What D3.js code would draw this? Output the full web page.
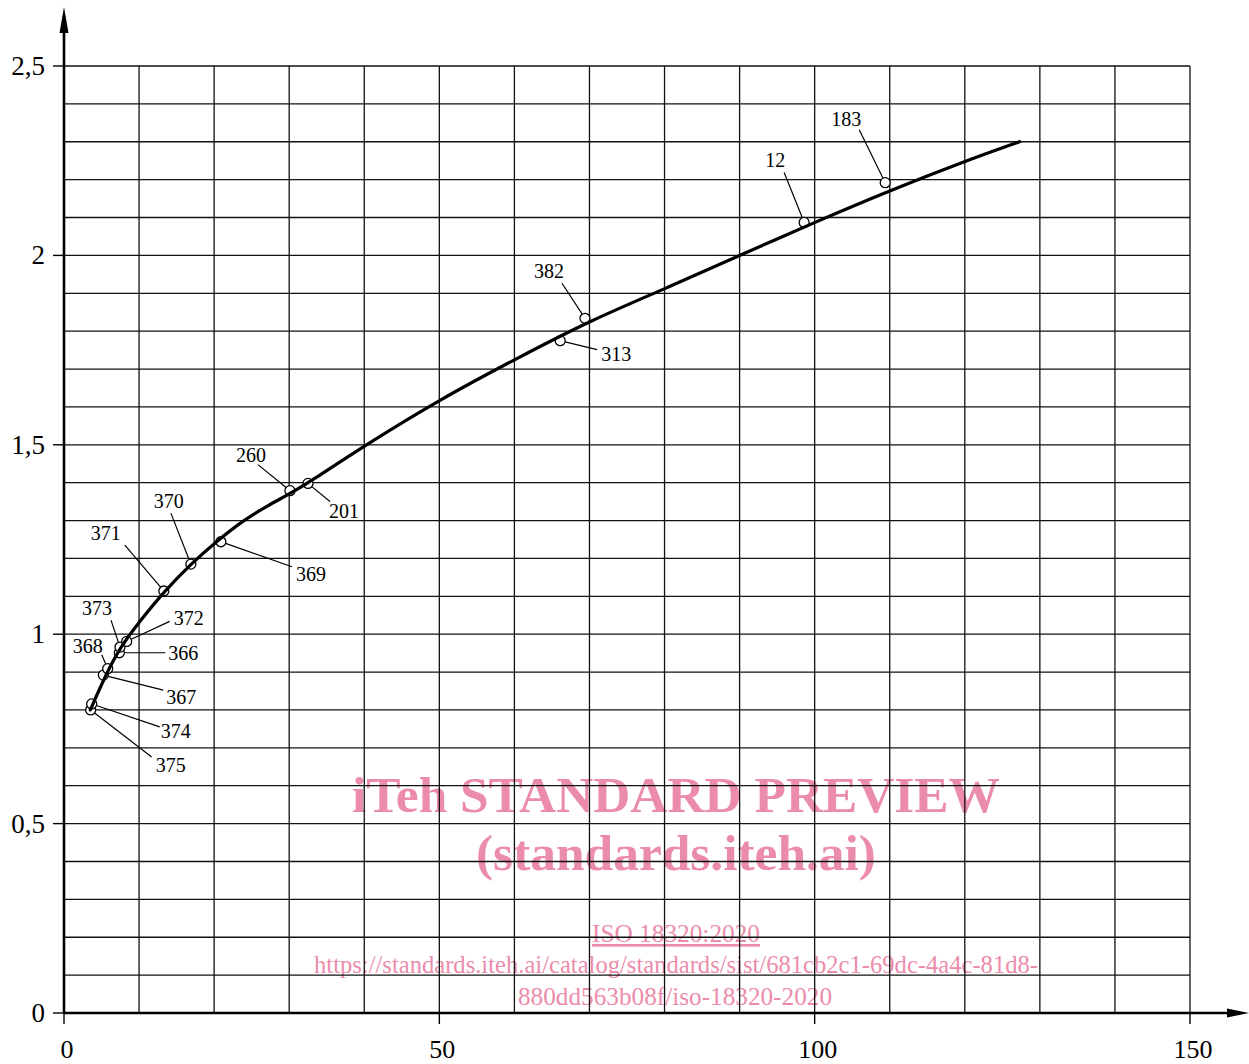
<!DOCTYPE html>
<html>
<head>
<meta charset="utf-8">
<script src="https://cdn.jsdelivr.net/npm/d3@7"></script>
<style>
  body { margin: 0; background: #fff; }
  svg { display: block; }
</style>
</head>
<body>
<div id="chart"></div>
<script>
// measured points (x, y) with their sample numbers
var pointIds = ["375", "374", "367", "368", "366", "373", "372", "371", "370", "369", "260", "201", "313", "382", "12", "183"];
var pointX = [3.55, 3.69, 5.24, 5.82, 7.37, 7.46, 8.35, 13.3, 16.9, 20.9, 30.1, 32.5, 66.1, 69.4, 98.6, 109.4];
var pointY = [0.800, 0.816, 0.892, 0.909, 0.951, 0.966, 0.981, 1.114, 1.185, 1.244, 1.379, 1.398, 1.775, 1.834, 2.087, 2.192];

// fitted curve
var curveX = [3.5, 5.5, 7.5, 10, 13.3, 17, 20.3, 24, 27, 30.2, 32.8, 40.2, 50.1, 60.3, 70.3, 80.2, 90, 100.2, 110, 119.8, 127.3];
var curveY = [0.80, 0.89, 0.966, 1.032, 1.112, 1.187, 1.245, 1.302, 1.338, 1.372, 1.403, 1.50, 1.62, 1.728, 1.83, 1.913, 2.0, 2.089, 2.171, 2.247, 2.30];

var xTicks = [0, 50, 100, 150];
var yTicks = [0, 0.5, 1, 1.5, 2, 2.5];
var yTickLabels = ["0", "0,5", "1", "1,5", "2", "2,5"];

// label placement (pixel offsets from the point): text centre and leader end
var lblDx = [80, 84, 78, -20, 64, -23, 62, -58, -22, 90, -39, 36, 56, -36, -29, -39];
var lblDy = [55, 27, 22, -23, 0, -39, -23, -58, -63, 32, -36, 28, 13, -47, -62, -64];
var ldrDx = [61, 68, 60, -6, 46, -9, 43, -39, -20, 71, -32, 22, 37, -23, -20, -26];
var ldrDy = [47, 23, 15, -14, 0, -27, -20, -46, -51, 25, -26, 18, 9, -35, -50, -53];

var width = 1249, height = 1064;
var x = d3.scaleLinear().domain([0, 150]).range([64, 1190]);
var y = d3.scaleLinear().domain([0, 2.5]).range([1013, 66]);

var svg = d3.select("#chart").append("svg")
  .attr("width", width)
  .attr("height", height);

// watermark (sits behind the grid)
var wm = svg.append("g")
  .attr("fill", "#ec8cab")
  .attr("font-family", "Liberation Serif, serif")
  .attr("text-anchor", "middle");
wm.append("text").attr("x", 676).attr("y", 812)
  .attr("font-size", 50).attr("font-weight", "bold")
  .attr("textLength", 648).attr("lengthAdjust", "spacingAndGlyphs")
  .text("iTeh STANDARD PREVIEW");
wm.append("text").attr("x", 676).attr("y", 870)
  .attr("font-size", 50).attr("font-weight", "bold")
  .attr("textLength", 400).attr("lengthAdjust", "spacingAndGlyphs")
  .text("(standards.iteh.ai)");
wm.append("text").attr("x", 676).attr("y", 942)
  .attr("font-size", 26).attr("text-decoration", "underline")
  .attr("textLength", 168).attr("lengthAdjust", "spacingAndGlyphs")
  .text("ISO 18320:2020");
wm.append("text").attr("x", 676).attr("y", 973)
  .attr("font-size", 26)
  .attr("textLength", 724).attr("lengthAdjust", "spacingAndGlyphs")
  .text("https://standards.iteh.ai/catalog/standards/sist/681cb2c1-69dc-4a4c-81d8-");
wm.append("text").attr("x", 675).attr("y", 1005)
  .attr("font-size", 26)
  .attr("textLength", 314).attr("lengthAdjust", "spacingAndGlyphs")
  .text("880dd563b08f/iso-18320-2020");

// grid
var grid = svg.append("g").attr("stroke", "#111").attr("stroke-width", 1.3);
grid.selectAll("line.v")
  .data(d3.range(10, 151, 10))
  .enter().append("line")
  .attr("x1", d => x(d)).attr("x2", d => x(d))
  .attr("y1", y(0)).attr("y2", y(2.5));
grid.selectAll("line.h")
  .data(d3.range(1, 26).map(d => d / 10))
  .enter().append("line")
  .attr("x1", x(0)).attr("x2", x(150))
  .attr("y1", d => y(d)).attr("y2", d => y(d));

// axes with arrows
var axes = svg.append("g").attr("stroke", "#000").attr("stroke-width", 2.6);
axes.append("line").attr("x1", x(0)).attr("x2", 1232).attr("y1", y(0)).attr("y2", y(0));
axes.append("line").attr("x1", x(0)).attr("x2", x(0)).attr("y1", y(0)).attr("y2", 30);
svg.append("path")
  .attr("d", "M1249," + y(0) + " L1227," + (y(0) - 4.5) + " L1227," + (y(0) + 4.5) + " Z")
  .attr("fill", "#000");
svg.append("path")
  .attr("d", "M" + x(0) + ",7 L" + (x(0) - 4.5) + ",33 L" + (x(0) + 4.5) + ",33 Z")
  .attr("fill", "#000");

// ticks
var ticks = svg.append("g").attr("stroke", "#000").attr("stroke-width", 1.4);
ticks.selectAll("line.xt").data(xTicks).enter().append("line")
  .attr("x1", d => x(d)).attr("x2", d => x(d))
  .attr("y1", y(0)).attr("y2", y(0) + 11);
ticks.selectAll("line.yt").data(yTicks).enter().append("line")
  .attr("x1", x(0) - 11).attr("x2", x(0))
  .attr("y1", d => y(d)).attr("y2", d => y(d));

var font = "Liberation Serif, serif";
svg.append("g").selectAll("text").data(xTicks).enter().append("text")
  .attr("x", d => x(d) + 3).attr("y", 1058)
  .attr("text-anchor", "middle")
  .attr("font-family", font).attr("font-size", 26)
  .text(d => d);
svg.append("g").selectAll("text").data(yTicks).enter().append("text")
  .attr("x", 45).attr("y", d => y(d) + 9)
  .attr("text-anchor", "end")
  .attr("font-family", font).attr("font-size", 27)
  .text((d, i) => yTickLabels[i]);

// measured points
var pts = pointIds.map(function (id, i) {
  return { id: id, x: pointX[i], y: pointY[i], i: i };
});

// leader lines
svg.append("g").attr("stroke", "#000").attr("stroke-width", 1.2)
  .selectAll("line").data(pts).enter().append("line")
  .attr("x1", function (d) {
    var ex = ldrDx[d.i], ey = ldrDy[d.i], len = Math.hypot(ex, ey);
    return x(d.x) + ex / len * 5;
  })
  .attr("y1", function (d) {
    var ex = ldrDx[d.i], ey = ldrDy[d.i], len = Math.hypot(ex, ey);
    return y(d.y) + ey / len * 5;
  })
  .attr("x2", d => x(d.x) + ldrDx[d.i])
  .attr("y2", d => y(d.y) + ldrDy[d.i]);

svg.append("g").selectAll("circle").data(pts).enter().append("circle")
  .attr("cx", d => x(d.x)).attr("cy", d => y(d.y)).attr("r", 5)
  .attr("fill", "#fff").attr("stroke", "#000").attr("stroke-width", 1.3);

// curve
var line = d3.line()
  .x((d, i) => x(curveX[i]))
  .y(d => y(d))
  .curve(d3.curveBasis);
svg.append("path")
  .attr("d", line(curveY))
  .attr("fill", "none")
  .attr("stroke", "#000")
  .attr("stroke-width", 3.2)
  .attr("stroke-linecap", "round");

// point labels
svg.append("g").selectAll("text").data(pts).enter().append("text")
  .attr("x", d => x(d.x) + lblDx[d.i])
  .attr("y", d => y(d.y) + lblDy[d.i] + 7)
  .attr("text-anchor", "middle")
  .attr("font-family", font).attr("font-size", 20)
  .text(d => d.id);
</script>
</body>
</html>
